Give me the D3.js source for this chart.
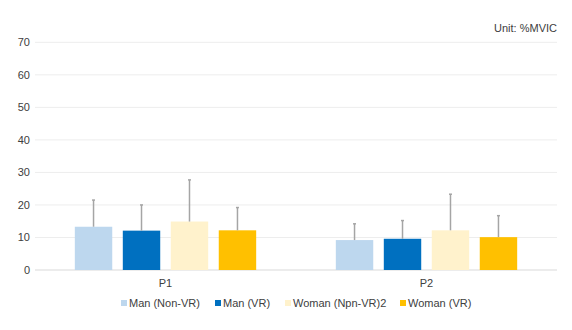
<!DOCTYPE html>
<html><head><meta charset="utf-8">
<script src="https://cdn.jsdelivr.net/npm/d3@7"></script>
<style>body{margin:0;background:#fff}svg{display:block;font-family:"Liberation Sans",Arial,sans-serif}</style>
</head><body><svg id="c" width="572" height="330"></svg>
<script>
const categories = ["P1", "P2"];
const seriesNames = ["Man (Non-VR)", "Man (VR)", "Woman (Npn-VR)2", "Woman (VR)"];
const manNonVR = [13.3, 9.2];
const manVR = [12.1, 9.6];
const womanNonVR = [14.9, 12.2];
const womanVR = [12.2, 10.1];
const errManNonVR = [8.2, 5.0];
const errManVR = [7.9, 5.6];
const errWomanNonVR = [12.8, 11.1];
const errWomanVR = [7.0, 6.6];
const yTicks = [0, 10, 20, 30, 40, 50, 60, 70];
const colors = ["#BDD7EE", "#0070C0", "#FFF2CC", "#FFC000"];

const values = [manNonVR, manVR, womanNonVR, womanVR];
const errors = [errManNonVR, errManVR, errWomanNonVR, errWomanVR];

const svg = d3.select("#c");
const y = d3.scaleLinear().domain([0, 70]).range([270, 42.3]);
const x0 = d3.scaleBand().domain(categories).range([35, 557]).paddingInner(0).paddingOuter(0);
const x1 = d3.scaleBand().domain(seriesNames).range([0, x0.bandwidth()]).paddingInner(0.22).paddingOuter(0.83);

// gridlines
svg.append("g").selectAll("line").data(yTicks).join("line")
  .attr("x1", 35).attr("x2", 557)
  .attr("y1", d => y(d)).attr("y2", d => y(d))
  .attr("stroke", d => d === 0 ? "#D9D9D9" : "#EDEDED").attr("stroke-width", 1);

// y tick labels
svg.append("g").selectAll("text").data(yTicks).join("text")
  .attr("x", 30).attr("y", d => y(d)).attr("dy", "0.35em")
  .attr("text-anchor", "end").attr("font-size", 11).attr("fill", "#404040")
  .text(d => d);

// bars
const rows = [];
categories.forEach((c, ci) => seriesNames.forEach((s, si) => rows.push({c, s, si, v: values[si][ci], e: errors[si][ci]})));
const g = svg.append("g");
g.selectAll("rect").data(rows).join("rect")
  .attr("x", d => x0(d.c) + x1(d.s)).attr("width", x1.bandwidth())
  .attr("y", d => y(d.v)).attr("height", d => y(0) - y(d.v))
  .attr("fill", d => colors[d.si]);

// error bars
g.selectAll("line.err").data(rows).join("line").attr("class", "err")
  .attr("x1", d => x0(d.c) + x1(d.s) + x1.bandwidth() / 2)
  .attr("x2", d => x0(d.c) + x1(d.s) + x1.bandwidth() / 2)
  .attr("y1", d => y(d.v)).attr("y2", d => y(d.v + d.e))
  .attr("stroke", "#A5A5A5").attr("stroke-width", 1.5);
g.selectAll("line.cap").data(rows).join("line").attr("class", "cap")
  .attr("x1", d => x0(d.c) + x1(d.s) + x1.bandwidth() / 2 - 1.5)
  .attr("x2", d => x0(d.c) + x1(d.s) + x1.bandwidth() / 2 + 1.5)
  .attr("y1", d => y(d.v + d.e)).attr("y2", d => y(d.v + d.e))
  .attr("stroke", "#A5A5A5").attr("stroke-width", 1.5);

// category labels
svg.append("g").selectAll("text").data(categories).join("text")
  .attr("x", d => x0(d) + x0.bandwidth() / 2).attr("y", 287)
  .attr("text-anchor", "middle").attr("font-size", 11).attr("fill", "#404040")
  .text(d => d);

// unit
svg.append("text").attr("x", 557).attr("y", 32).attr("text-anchor", "end")
  .attr("font-size", 11).attr("fill", "#404040").text("Unit: %MVIC");

// legend
const legendX = [121, 215, 285, 400];
const lg = svg.append("g");
seriesNames.forEach((s, i) => {
  lg.append("rect").attr("x", legendX[i]).attr("y", 300).attr("width", 6).attr("height", 6).attr("fill", colors[i]);
  lg.append("text").attr("x", legendX[i] + 8).attr("y", 307).attr("font-size", 11).attr("fill", "#404040").text(s);
});
</script></body></html>
